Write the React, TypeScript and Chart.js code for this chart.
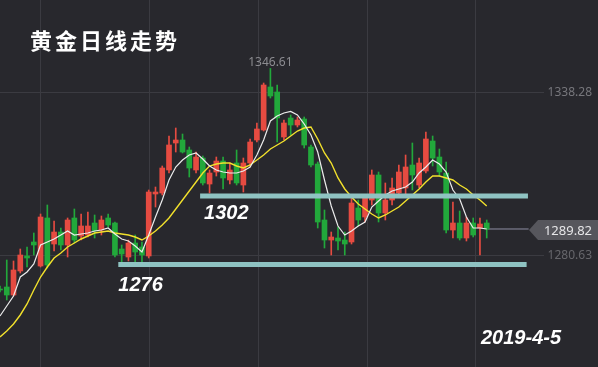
import React, { useEffect, useRef } from "react";
import { Chart, registerables } from "chart.js";

Chart.register(...registerables);

// ---------- data ----------
const title = "黄金日线走势";
const dateLabel = "2019-4-5";

const opens = [
  1268.59, 1269.3, 1266.47, 1274.96, 1280.27, 1285.22, 1276.73, 1293.71, 1284.51, 1288.75,
  1284.16, 1293.71, 1287.34, 1287.69, 1291.94, 1289.46, 1293.71, 1291.94, 1282.74, 1279.91,
  1284.86, 1283.45, 1280.27, 1302.2, 1302.55, 1310.69, 1320.24, 1321.3, 1317.76, 1310.69,
  1314.93, 1305.73, 1309.98, 1313.87, 1307.15, 1313.16, 1305.38, 1313.16, 1321.3, 1324.84,
  1340.05, 1338.28, 1322.36, 1329.08, 1326.6, 1328.73, 1318.82, 1312.81, 1293.0, 1285.92,
  1286.63, 1285.92, 1285.22, 1297.24, 1294.06, 1300.07, 1308.92, 1295.48, 1300.07, 1302.55,
  1304.32, 1312.45, 1305.38, 1310.33, 1320.94, 1315.28, 1309.62, 1289.46, 1291.94, 1286.63,
  1291.94, 1290.17, 1291.94,
];
const closes = [
  1268.24, 1266.47, 1275.31, 1280.62, 1279.56, 1284.16, 1294.06, 1277.08, 1288.75, 1284.16,
  1293.0, 1285.92, 1290.88, 1290.88, 1289.11, 1293.0, 1291.23, 1280.62, 1280.97, 1284.86,
  1281.68, 1280.62, 1302.9, 1302.9, 1311.39, 1319.53, 1321.3, 1317.05, 1311.39, 1315.28,
  1306.09, 1309.62, 1313.87, 1307.86, 1310.69, 1306.09, 1313.16, 1320.59, 1325.19, 1340.75,
  1336.86, 1329.08, 1327.31, 1326.6, 1328.37, 1319.53, 1312.45, 1292.29, 1285.92, 1286.99,
  1285.57, 1284.51, 1299.01, 1293.0, 1300.78, 1308.92, 1295.48, 1300.07, 1304.32, 1309.98,
  1311.75, 1308.92, 1313.16, 1321.65, 1314.93, 1309.98, 1289.46, 1291.94, 1286.63, 1291.94,
  1287.69, 1291.58, 1289.82,
];
const highs = [
  1269.65, 1278.85, 1278.5, 1282.74, 1283.45, 1288.4, 1295.12, 1298.31, 1292.65, 1290.17,
  1293.71, 1296.89, 1295.12, 1295.83, 1294.77, 1294.41, 1295.12, 1292.29, 1284.16, 1285.92,
  1287.69, 1285.22, 1303.61, 1304.67, 1312.1, 1322.71, 1325.54, 1323.42, 1318.82, 1317.05,
  1315.64, 1310.69, 1315.28, 1315.28, 1313.16, 1317.76, 1314.93, 1321.65, 1327.31, 1341.46,
  1346.61, 1340.75, 1328.37, 1330.14, 1329.43, 1329.43, 1319.53, 1313.52, 1296.54, 1288.75,
  1290.52, 1288.75, 1300.78, 1300.07, 1301.49, 1310.69, 1309.98, 1306.09, 1307.86, 1312.45,
  1315.99, 1320.24, 1314.93, 1324.13, 1322.71, 1318.11, 1313.52, 1299.37, 1296.18, 1294.06,
  1293.71, 1293.71, 1293.0,
];
const lows = [
  1267.53, 1264.7, 1266.12, 1274.25, 1276.37, 1280.62, 1276.37, 1276.02, 1282.03, 1282.39,
  1279.91, 1284.86, 1285.92, 1286.99, 1286.63, 1287.69, 1290.52, 1279.91, 1278.14, 1278.5,
  1278.14, 1278.14, 1279.56, 1297.6, 1301.84, 1309.62, 1317.05, 1316.7, 1308.21, 1309.62,
  1305.38, 1302.55, 1308.56, 1303.97, 1305.73, 1305.38, 1302.9, 1311.75, 1320.59, 1324.48,
  1336.15, 1320.59, 1321.3, 1323.07, 1325.9, 1318.47, 1311.75, 1290.17, 1283.09, 1280.62,
  1282.39, 1280.62, 1284.51, 1290.88, 1292.29, 1298.31, 1292.29, 1293.0, 1298.31, 1301.14,
  1301.84, 1303.61, 1304.32, 1309.62, 1312.1, 1308.56, 1288.4, 1286.63, 1285.92, 1285.57,
  1286.99, 1280.62, 1286.63,
];
const maWhite = [
  1259.04, 1262.58, 1266.12, 1272.84, 1274.61, 1277.44, 1284.16, 1285.22, 1286.28, 1287.69,
  1289.11, 1287.69, 1288.05, 1288.4, 1289.11, 1289.46, 1290.17, 1288.05, 1286.28, 1285.57,
  1283.8, 1281.68, 1287.69, 1294.06, 1300.07, 1307.15, 1311.75, 1314.22, 1315.99, 1316.7,
  1314.58, 1312.1, 1310.69, 1309.98, 1309.62, 1309.62, 1310.33, 1311.75, 1315.99, 1321.3,
  1328.02, 1329.79, 1330.85, 1331.4, 1330.14, 1326.96, 1323.07, 1317.05, 1307.15, 1297.95,
  1290.88, 1287.69, 1289.11, 1290.88, 1292.29, 1297.6, 1299.72, 1301.84, 1303.26, 1303.97,
  1304.67, 1306.44, 1309.62, 1311.75, 1314.22, 1312.81, 1309.98, 1303.61, 1300.43, 1294.06,
  1290.17, 1290.17, 1289.82,
];
const maYellow = [
  1251.61, 1253.74, 1256.21, 1259.4, 1263.29, 1268.24, 1272.84, 1276.37, 1279.56, 1281.33,
  1283.45, 1284.86, 1286.28, 1287.34, 1288.4, 1288.75, 1289.11, 1288.4, 1288.05, 1287.69,
  1286.99, 1285.92, 1287.34, 1289.11, 1291.23, 1293.71, 1296.89, 1300.07, 1303.26, 1306.44,
  1309.62, 1312.1, 1312.81, 1313.16, 1313.16, 1312.1, 1311.39, 1312.45, 1314.22, 1315.99,
  1318.11, 1319.53, 1320.94, 1322.71, 1324.48, 1325.54, 1325.9, 1321.65, 1316.7, 1313.16,
  1307.86, 1303.97, 1301.14, 1298.66, 1296.89, 1295.12, 1293.71, 1294.77, 1296.18, 1297.6,
  1299.72, 1301.84, 1303.97, 1306.44, 1308.56, 1308.56, 1307.86, 1307.15, 1305.38, 1303.97,
  1301.84, 1300.07, 1297.95,
];

const supportLevels = [1301.5, 1277.3];
const supportLabels = ["1302", "1276"];
const supportFrom = [29.6, 17.5];
const supportTo = [78.1, 77.9];
const gridPrices = [1338.28, 1280.63];
const gridIndexes = [5.92, 22.04, 38.17, 54.29, 70.27];
const highestPrice = 1346.61;
const lastPrice = 1289.82;

// ---------- styles ----------
const W = 598;
const H = 367;
const BG = "#28282d";
const UP = "#e64b41";
const DOWN = "#22a83b";
const TEAL = "#8fc3c2";

export default function App() {
  const ref = useRef<HTMLCanvasElement | null>(null);

  useEffect(() => {
    document.body.style.margin = "0";
    document.body.style.overflow = "hidden";
    document.body.style.background = BG;
    const canvas = ref.current;
    if (!canvas) return;

    const n = closes.length;
    const idx = Array.from({ length: n }, (_, i) => i);
    const colors = idx.map((i) => (closes[i] >= opens[i] ? UP : DOWN));
    const lastIdx = n - 1;

    const overlay = {
      id: "overlay",
      beforeDraw(chart: any) {
        const { ctx } = chart;
        ctx.save();
        ctx.fillStyle = BG;
        ctx.fillRect(0, 0, W, H);
        ctx.restore();
      },
      beforeDatasetsDraw(chart: any) {
        const { ctx, scales } = chart;
        const x = scales.x;
        const y = scales.y;
        ctx.save();
        ctx.strokeStyle = "#3b3b41";
        ctx.lineWidth = 1;
        gridIndexes.forEach((v) => {
          const px = Math.round(x.getPixelForValue(v)) + 0.5;
          ctx.beginPath();
          ctx.moveTo(px, 0);
          ctx.lineTo(px, H);
          ctx.stroke();
        });
        gridPrices.forEach((v) => {
          const py = Math.round(y.getPixelForValue(v)) + 0.5;
          ctx.beginPath();
          ctx.moveTo(0, py);
          ctx.lineTo(544, py);
          ctx.stroke();
        });
        ctx.restore();
      },
      afterDatasetsDraw(chart: any) {
        const { ctx, scales } = chart;
        const x = scales.x;
        const y = scales.y;
        ctx.save();
        // grid price labels
        ctx.font = '12px "Noto Sans"';
        ctx.textAlign = "right";
        ctx.textBaseline = "middle";
        gridPrices.forEach((v, k) => {
          ctx.fillStyle = k === 0 ? "#77777c" : "#66666b";
          ctx.fillText(v.toFixed(2), 592, y.getPixelForValue(v) + 1);
        });
        // highest label
        ctx.fillStyle = "#8c8c91";
        ctx.textAlign = "center";
        const hiIdx = highs.indexOf(highestPrice);
        ctx.fillText(highestPrice.toFixed(2), x.getPixelForValue(hiIdx), y.getPixelForValue(highestPrice) - 6);

        // last price box
        const ly = y.getPixelForValue(lastPrice) + 1;
        ctx.fillStyle = "#56565c";
        ctx.beginPath();
        ctx.moveTo(529, ly);
        ctx.lineTo(538, ly - 10);
        ctx.lineTo(W, ly - 10);
        ctx.lineTo(W, ly + 10);
        ctx.lineTo(538, ly + 10);
        ctx.closePath();
        ctx.fill();
        ctx.fillStyle = "#e6e6e8";
        ctx.font = '13px "Noto Sans"';
        ctx.textAlign = "right";
        ctx.fillText(lastPrice.toFixed(2), 592, ly + 1);

        // title
        ctx.fillStyle = "#ffffff";
        ctx.font = 'bold 22px "Noto Sans CJK SC"';
        ctx.textAlign = "left";
        Array.from(title).forEach((ch, k) => {
          ctx.fillText(ch, 30 + k * 25, 41);
        });

        // support labels
        ctx.font = 'italic bold 20px "Liberation Sans"';
        ctx.fillStyle = "#ffffff";
        ctx.textAlign = "left";
        supportLabels.forEach((t, k) => {
          const px = x.getPixelForValue(supportFrom[k]) + (k === 0 ? 4 : 0);
          const py = y.getPixelForValue(supportLevels[k]) + (k === 0 ? 18 : 21);
          ctx.fillText(t, px, py);
        });
        ctx.fillText(dateLabel, 481, 338);
        ctx.restore();
      },
    };

    const chart = new Chart(canvas, {
      type: "bar",
      data: {
        datasets: [
          ...supportLevels.map((lv, k) => ({
            type: "line" as const,
            data: [
              { x: supportFrom[k], y: lv },
              { x: supportTo[k], y: lv },
            ],
            borderColor: TEAL,
            borderWidth: 5,
            borderCapStyle: "butt" as const,
            pointRadius: 0,
          })),
          {
            type: "line" as const,
            data: idx.map((i) => ({ x: i, y: maWhite[i] })),
            borderColor: "#ececec",
            borderWidth: 1.2,
            pointRadius: 0,
            tension: 0,
          },
          {
            type: "line" as const,
            data: idx.map((i) => ({ x: i, y: maYellow[i] })),
            borderColor: "#f2e12c",
            borderWidth: 1.4,
            pointRadius: 0,
            tension: 0,
          },
          {
            type: "bar" as const,
            data: idx.map((i) => ({ x: i, y: [opens[i], closes[i]] })),
            backgroundColor: colors,
            barThickness: 5,
            grouped: false,
            minBarLength: 1,
          },
          {
            type: "bar" as const,
            data: idx.map((i) => ({ x: i, y: [lows[i], highs[i]] })),
            backgroundColor: colors,
            barThickness: 1,
            grouped: false,
          },
          {
            type: "line" as const,
            data: [
              { x: lastIdx, y: lastPrice },
              { x: 78.2, y: lastPrice },
            ],
            borderColor: "#8e8ea3",
            borderWidth: 1,
            pointRadius: 0,
          },
        ],
      } as any,
      options: {
        responsive: false,
        animation: false,
        layout: { padding: 0 },
        plugins: {
          legend: { display: false },
          tooltip: { enabled: false },
        },
        scales: {
          x: { type: "linear", min: 0, max: W / 6.76, offset: false, display: false },
          y: { type: "linear", min: 1241.0, max: 1370.82, display: false },
        },
      } as any,
      plugins: [overlay],
    });
    return () => chart.destroy();
  }, []);

  return (
    <div style={{ width: W, height: H, background: BG }}>
      <canvas ref={ref} width={W} height={H} style={{ display: "block" }} />
    </div>
  );
}
